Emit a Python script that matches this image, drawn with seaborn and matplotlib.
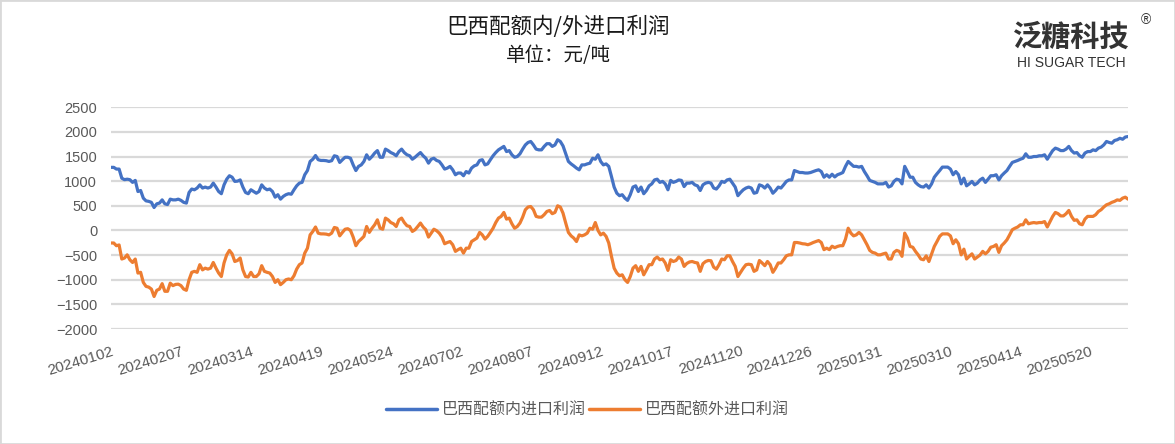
import numpy as np
import pandas as pd
import seaborn as sns
import matplotlib.pyplot as plt
from matplotlib.patches import Rectangle

# 巴西配额内进口利润 (元/吨), one value per trading day from 20240102
inner = [1280, 1280, 1245, 1245, 1060, 1030, 1040, 1030, 975, 1015,
         790, 810, 655, 600, 590, 570, 465, 540, 555, 620,
         540, 525, 635, 620, 620, 635, 610, 570, 555, 770,
         840, 825, 860, 925, 860, 880, 860, 880, 960, 880,
         790, 745, 925, 1040, 1110, 1080, 995, 1000, 1025, 880,
         770, 745, 825, 790, 755, 790, 925, 860, 825, 840,
         790, 675, 725, 635, 690, 725, 745, 735, 825, 905,
         960, 975, 1130, 1215, 1400, 1445, 1520, 1435, 1420, 1420,
         1415, 1400, 1415, 1515, 1500, 1380, 1435, 1485, 1485, 1465,
         1330, 1215, 1300, 1330, 1400, 1535, 1445, 1500, 1570, 1620,
         1485, 1485, 1650, 1620, 1580, 1555, 1515, 1600, 1650, 1580,
         1535, 1515, 1445, 1485, 1535, 1580, 1515, 1465, 1365, 1445,
         1465, 1420, 1400, 1330, 1245, 1265, 1300, 1230, 1130, 1165,
         1165, 1110, 1195, 1165, 1265, 1310, 1330, 1420, 1435, 1330,
         1350, 1435, 1515, 1580, 1635, 1670, 1705, 1600, 1620, 1535,
         1485, 1500, 1555, 1650, 1735, 1785, 1805, 1735, 1650, 1635,
         1635, 1705, 1760, 1760, 1705, 1735, 1840, 1805, 1715, 1555,
         1400, 1350, 1310, 1265, 1230, 1330, 1330, 1350, 1365, 1465,
         1445, 1535, 1400, 1330, 1350, 1300, 1095, 880, 755, 705,
         725, 655, 610, 725, 880, 905, 790, 880, 745, 810,
         905, 945, 1025, 1040, 975, 995, 945, 825, 1015, 975,
         995, 1025, 1015, 890, 960, 960, 975, 925, 905, 810,
         925, 960, 975, 960, 860, 840, 905, 995, 975, 1025,
         1040, 960, 880, 705, 770, 825, 860, 880, 860, 755,
         770, 925, 905, 860, 925, 860, 755, 810, 880, 860,
         925, 995, 1025, 1025, 1215, 1195, 1175, 1175, 1165, 1165,
         1175, 1195, 1215, 1230, 1195, 1080, 1130, 1080, 1140, 1085,
         1130, 1150, 1175, 1300, 1400, 1350, 1300, 1300, 1285, 1300,
         1195, 1110, 1015, 995, 975, 945, 945, 945, 975, 880,
         905, 995, 1040, 1025, 945, 1300, 1195, 1080, 1080, 975,
         925, 890, 880, 925, 860, 945, 1080, 1150, 1215, 1285,
         1285, 1285, 1245, 1130, 1195, 1130, 945, 1060, 905, 945,
         995, 925, 960, 1025, 1060, 975, 1040, 1110, 1110, 1130,
         1025, 1110, 1165, 1215, 1300, 1380, 1400, 1420, 1445, 1465,
         1555, 1485, 1485, 1500, 1500, 1515, 1515, 1535, 1445, 1535,
         1620, 1670, 1650, 1620, 1620, 1650, 1705, 1620, 1570, 1580,
         1515, 1485, 1570, 1600, 1600, 1635, 1620, 1670, 1690, 1735,
         1805, 1785, 1770, 1825, 1840, 1870, 1850, 1895, 1905]

# 巴西配额外进口利润 (元/吨)
outer = [-255, -255, -310, -295, -580, -560, -495, -595, -650, -580,
         -865, -850, -1055, -1135, -1150, -1190, -1340, -1215, -1190, -1080,
         -1235, -1235, -1070, -1120, -1095, -1090, -1120, -1190, -1215, -1000,
         -850, -830, -850, -695, -800, -765, -785, -765, -650, -765,
         -865, -935, -660, -495, -405, -475, -630, -610, -560, -800,
         -935, -945, -850, -935, -935, -880, -715, -830, -850, -865,
         -935, -1055, -1000, -1100, -1055, -1000, -985, -1000, -920, -785,
         -695, -660, -460, -360, -90, -20, 70, -55, -70, -70,
         -75, -90, -55, 60, 45, -110, -40, 25, 35, 0,
         -135, -310, -225, -175, -120, 80, -40, 45, 115, 215,
         45, 25, 250, 215, 160, 135, 80, 215, 250, 160,
         95, 80, -20, 15, 80, 150, 70, 15, -135, -55,
         25, -5, -55, -135, -270, -245, -225, -290, -425, -390,
         -360, -460, -360, -360, -225, -190, -155, -40, -90, -175,
         -120, -40, 45, 160, 250, 285, 365, 230, 250, 135,
         45, 80, 150, 270, 420, 475, 485, 420, 285, 270,
         270, 320, 385, 405, 340, 365, 500, 475, 350, 150,
         -40, -110, -155, -225, -90, -110, -90, -55, 45, 25,
         160, 0, -90, -55, -120, -255, -525, -765, -865, -920,
         -900, -1000, -1055, -935, -765, -715, -830, -730, -900, -800,
         -695, -695, -580, -540, -595, -580, -660, -810, -595, -630,
         -610, -540, -580, -730, -670, -640, -630, -650, -660, -830,
         -675, -630, -610, -615, -745, -785, -695, -580, -595, -515,
         -515, -630, -730, -935, -850, -765, -695, -685, -695, -830,
         -800, -610, -660, -715, -630, -695, -850, -765, -660, -660,
         -595, -515, -495, -495, -245, -245, -255, -270, -275, -290,
         -270, -245, -225, -205, -245, -390, -360, -390, -320, -350,
         -325, -310, -310, -175, 45, -55, -110, -90, -40, -90,
         -190, -290, -405, -445, -460, -495, -495, -475, -460, -580,
         -580, -445, -405, -425, -525, -55, -155, -325, -340, -425,
         -495, -580, -595, -515, -630, -475, -325, -225, -120, -70,
         -70, -70, -110, -270, -190, -270, -495, -380, -580, -525,
         -475, -580, -540, -500, -425, -475, -425, -340, -325, -290,
         -445, -310, -255, -190, -90, 15, 45, 70, 115, 115,
         215, 135, 150, 160, 150, 160, 160, 180, 70, 180,
         285, 365, 340, 295, 295, 340, 405, 285, 205, 215,
         135, 115, 230, 285, 285, 285, 320, 385, 420, 475,
         520, 540, 570, 590, 620, 610, 655, 675, 635]

tick_labels = ["20240102", "20240207", "20240314", "20240419", "20240524",
               "20240702", "20240807", "20240912", "20241017", "20241120",
               "20241226", "20250131", "20250310", "20250414", "20250520"]
tick_step = 26
series_names = ["巴西配额内进口利润", "巴西配额外进口利润"]

df = pd.DataFrame({"idx": np.arange(len(inner)),
                   series_names[0]: inner,
                   series_names[1]: outer})
long_df = df.melt(id_vars="idx", var_name="series", value_name="profit")

sns.set_theme(style="white")
plt.rcParams["font.family"] = ["Liberation Sans", "Noto Sans CJK SC", "DejaVu Sans"]
cjk = ["Noto Sans CJK SC", "DejaVu Sans"]

fig = plt.figure(figsize=(11.75, 4.44), dpi=100)
ax = fig.add_axes([0.0945, 0.259, 0.8655, 0.4995])

sns.lineplot(data=long_df, x="idx", y="profit", hue="series",
             palette=["#4472C4", "#ED7D31"], linewidth=2.3, ax=ax, legend=False)

ax.set_xlim(0, len(inner) - 1)
ax.set_ylim(-2000, 2500)
ax.set_yticks(np.arange(-2000, 2501, 500))
ax.grid(axis="y", color="#D9D9D9", linewidth=1.6)
ax.set_axisbelow(True)
for s in ax.spines.values():
    s.set_visible(False)
ax.set_xlabel("")
ax.set_ylabel("")
ax.tick_params(axis="both", length=0, labelsize=10.5, colors="#595959")
ax.tick_params(axis="y", pad=10)

ax.set_xticks(np.arange(len(tick_labels)) * tick_step)
ax.set_xticklabels(tick_labels, rotation=17, ha="right", va="top",
                   rotation_mode="anchor", fontsize=11)
ax.tick_params(axis="x", pad=11)

# title and unit
fig.text(0.475, 1 - 27 / 444, "巴西配额内/外进口利润", ha="center", va="center",
         fontsize=15.5, color="#1a1a1a", family=cjk)
fig.text(0.475, 1 - 55 / 444, "单位：元/吨", ha="center", va="center",
         fontsize=14, color="#1a1a1a", family=cjk)

# logo
fig.text(0.9115, 1 - 37 / 444, "泛糖科技", ha="center", va="center", fontsize=21,
         fontweight="bold", color="#333333", family=cjk)
fig.text(0.9115, 1 - 63 / 444, "HI SUGAR TECH", ha="center", va="center",
         fontsize=10, color="#333333")
fig.text(0.975, 1 - 20 / 444, "®", ha="center", va="center", fontsize=10, color="#333333")

# legend
handles = [plt.Line2D([], [], color=c, lw=2.5) for c in ["#4472C4", "#ED7D31"]]
fig.legend(handles, series_names, loc="center", bbox_to_anchor=(0.50, 1 - 410 / 444),
           ncol=2, frameon=False, handlelength=3.2, handletextpad=0.3,
           columnspacing=0.2, prop={"family": cjk, "size": 11.5},
           labelcolor="#595959")

fig.patches.append(Rectangle((0, 0), 1, 1, transform=fig.transFigure, fill=False,
                             edgecolor="#D9D9D9", linewidth=2))

fig.savefig("out.png", dpi=100)
